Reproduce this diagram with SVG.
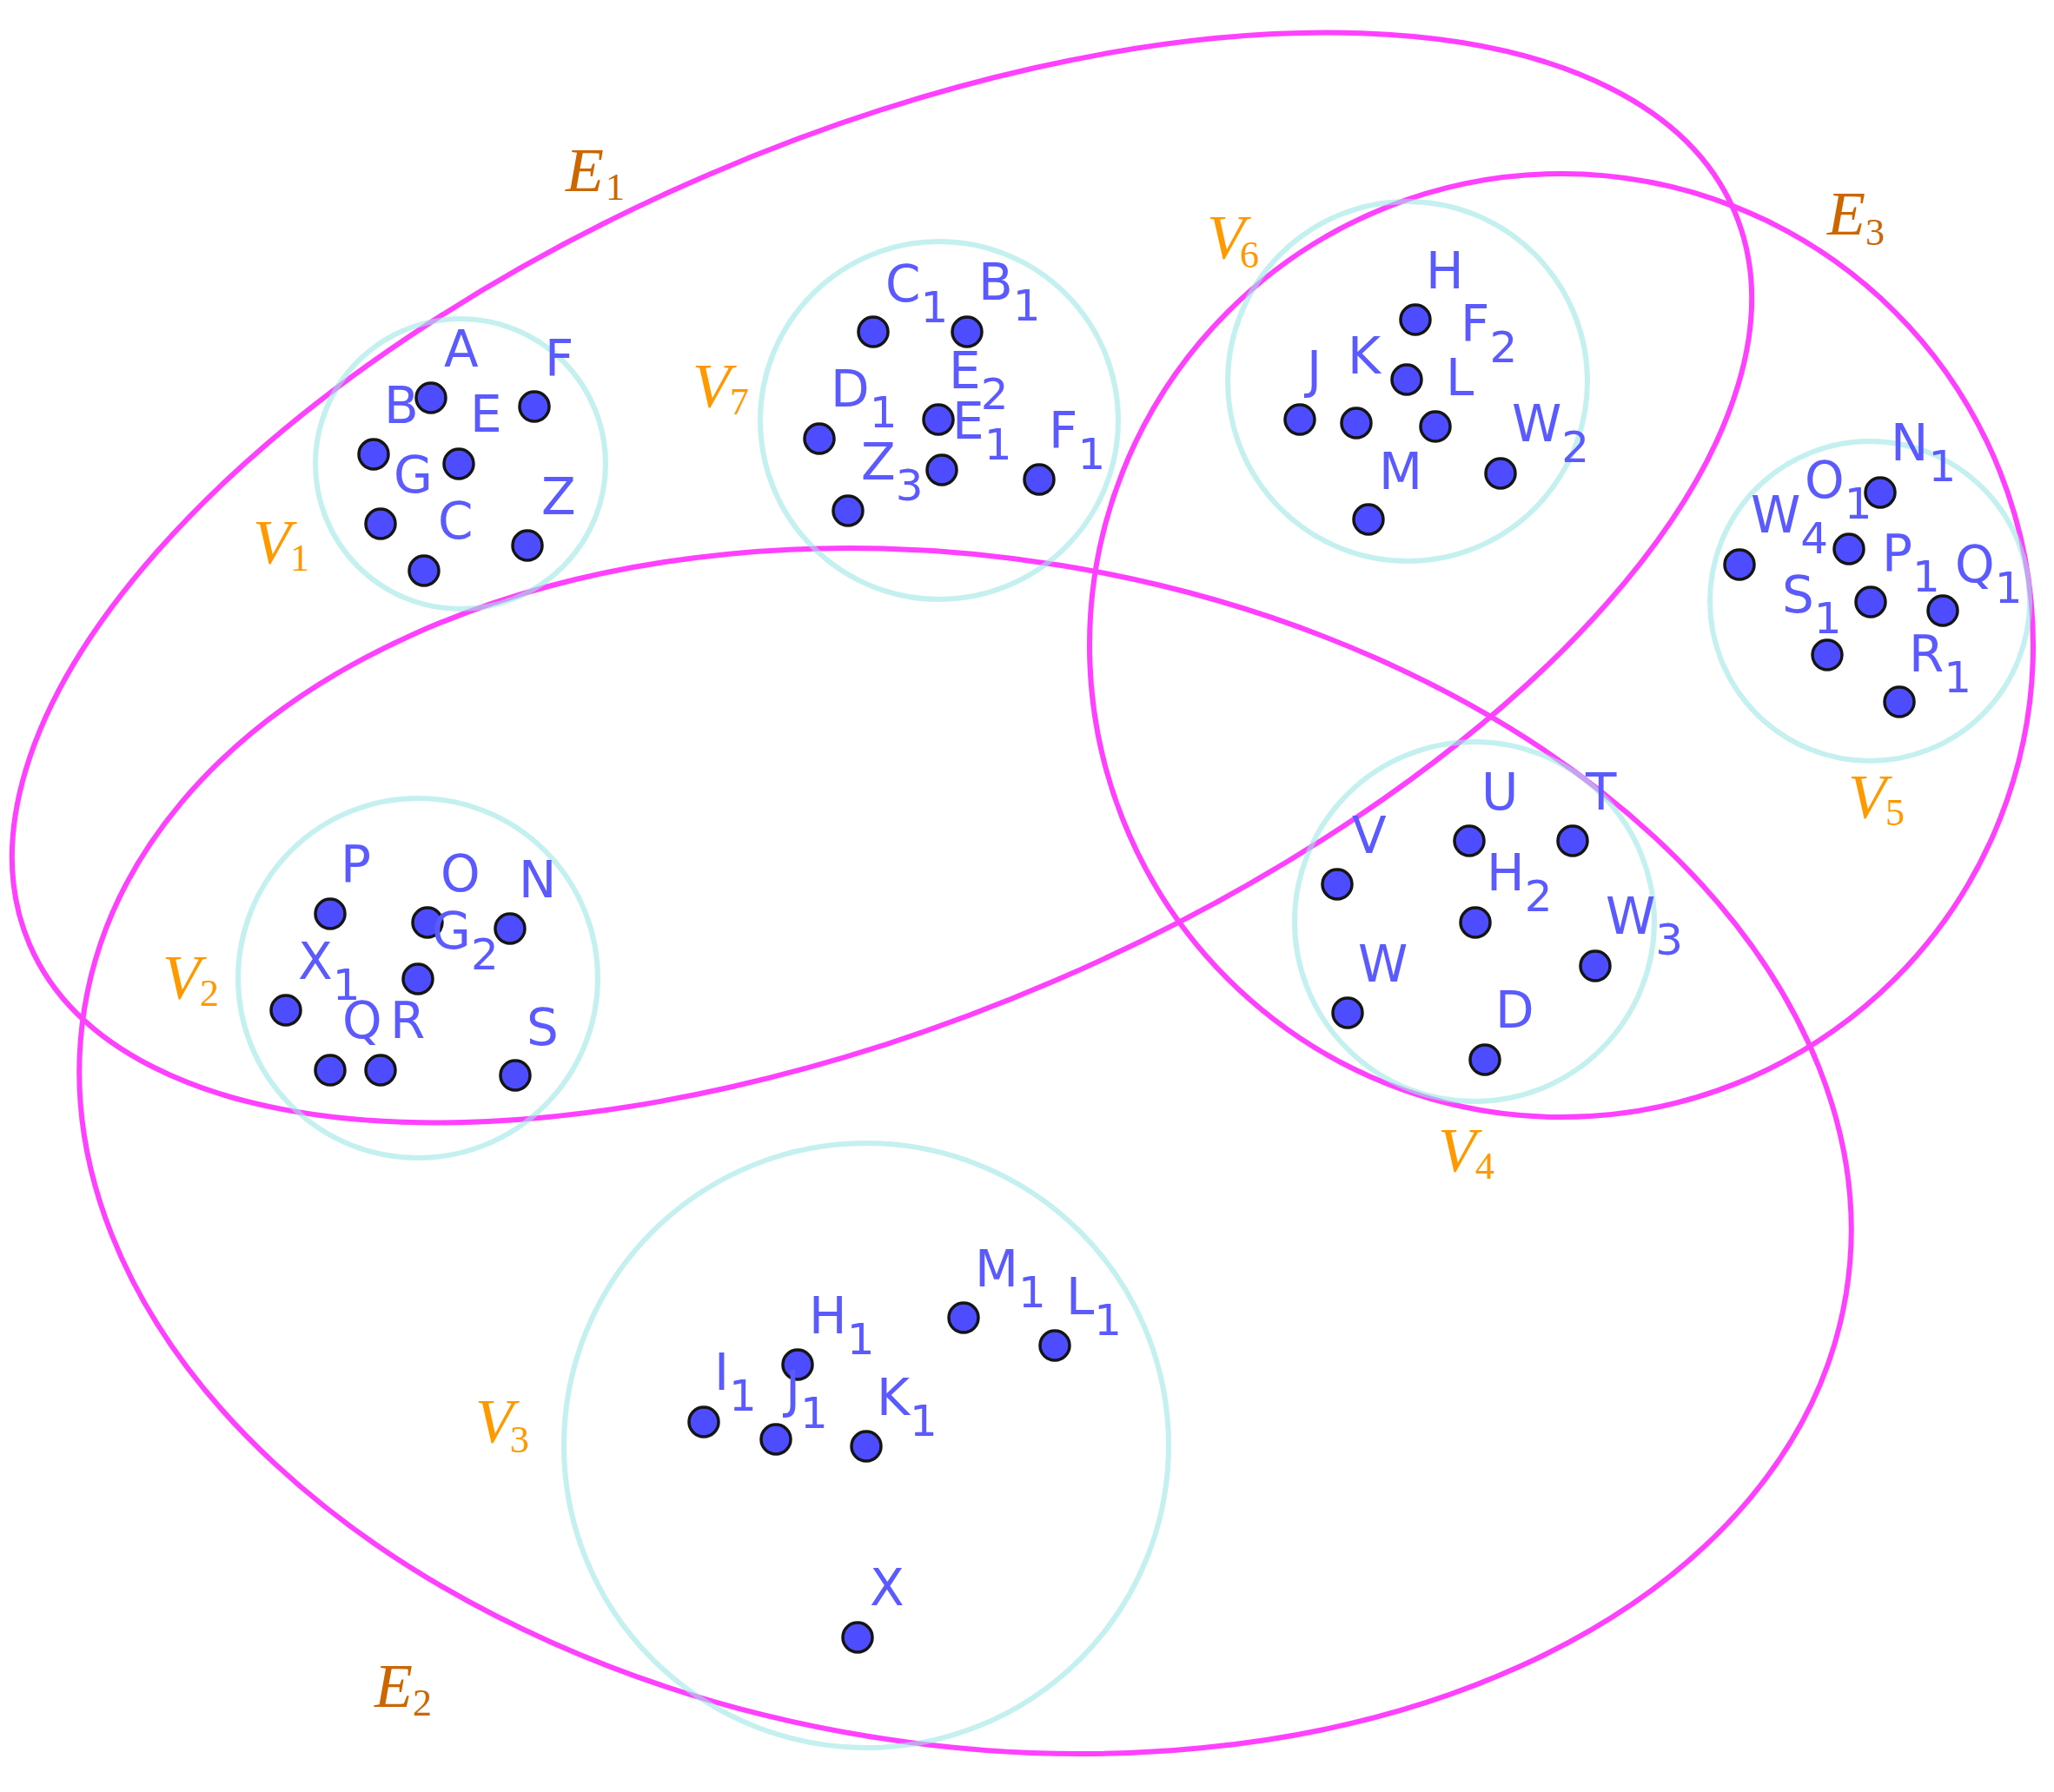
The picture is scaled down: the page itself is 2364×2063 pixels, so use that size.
<svg xmlns="http://www.w3.org/2000/svg" width="2364" height="2063" viewBox="0 0 2364 2063">
<style>
.edge{fill:none;stroke:#ff40ff;stroke-width:6}
.set{fill:none;stroke:#9fe6e6;stroke-width:6;stroke-opacity:0.6}
.pt{fill:#4d4dff;stroke:#151515;stroke-width:3.5}
.lb{font-family:"DejaVu Sans",sans-serif;font-size:58px;fill:#5a5aff}
.sb{font-size:50px}
.vl{font-family:"Liberation Serif",serif;font-style:italic;font-size:72px;fill:#ff9900}
.el{font-family:"Liberation Serif",serif;font-style:italic;font-size:72px;fill:#cc6600}
.dg{font-style:normal;font-size:44px}
</style>
<rect width="2364" height="2063" fill="#ffffff"/>
<g id="hyperedges">
<ellipse class="edge" cx="1015" cy="665" rx="1068" ry="505" transform="rotate(-23.3 1015 665)"/>
<ellipse class="edge" cx="1111" cy="1325" rx="1027" ry="683" transform="rotate(9.2 1111 1325)"/>
<circle class="edge" cx="1797" cy="743" r="543"/>
<text class="el" x="651" y="220">E</text><text class="el dg" x="697" y="230">1</text>
<text class="el" x="431" y="1965">E</text><text class="el dg" x="475" y="1975">2</text>
<text class="el" x="2103" y="270">E</text><text class="el dg" x="2147" y="282">3</text>
</g>
<g id="V1">
<circle class="set" cx="530" cy="534" r="167"/>
<text class="vl" x="291" y="648">V</text><text class="vl dg" x="334" y="657">1</text>
<g id="pA"><circle class="pt" cx="496" cy="458" r="17"/><text class="lb" x="511" y="422">A</text></g>
<g id="pB"><circle class="pt" cx="430" cy="523" r="17"/><text class="lb" x="442" y="487">B</text></g>
<g id="pE"><circle class="pt" cx="528" cy="534" r="17"/><text class="lb" x="541" y="497">E</text></g>
<g id="pF"><circle class="pt" cx="615" cy="468" r="17"/><text class="lb" x="627" y="433">F</text></g>
<g id="pG"><circle class="pt" cx="438" cy="603" r="17"/><text class="lb" x="453" y="567">G</text></g>
<g id="pC"><circle class="pt" cx="488" cy="657" r="17"/><text class="lb" x="504" y="620">C</text></g>
<g id="pZ"><circle class="pt" cx="607" cy="628" r="17"/><text class="lb" x="623" y="592">Z</text></g>
</g>
<g id="V7">
<circle class="set" cx="1081" cy="484" r="206"/>
<text class="vl" x="797" y="468">V</text><text class="vl dg" x="840" y="477">7</text>
<g id="pC1"><circle class="pt" cx="1005" cy="382" r="17"/><text class="lb" x="1019" y="347">C<tspan class="sb" dy="24">1</tspan></text></g>
<g id="pB1"><circle class="pt" cx="1113" cy="382" r="17"/><text class="lb" x="1126" y="345">B<tspan class="sb" dy="24">1</tspan></text></g>
<g id="pD1"><circle class="pt" cx="943" cy="505" r="17"/><text class="lb" x="956" y="468">D<tspan class="sb" dy="24">1</tspan></text></g>
<g id="pE2"><circle class="pt" cx="1080" cy="483" r="17"/><text class="lb" x="1092" y="447">E<tspan class="sb" dy="24">2</tspan></text></g>
<g id="pE1"><circle class="pt" cx="1084" cy="541" r="17"/><text class="lb" x="1096" y="505">E<tspan class="sb" dy="24">1</tspan></text></g>
<g id="pF1"><circle class="pt" cx="1196" cy="552" r="17"/><text class="lb" x="1207" y="516">F<tspan class="sb" dy="24">1</tspan></text></g>
<g id="pZ3"><circle class="pt" cx="976" cy="588" r="17"/><text class="lb" x="991" y="552">Z<tspan class="sb" dy="24">3</tspan></text></g>
</g>
<g id="V6">
<circle class="set" cx="1620" cy="439" r="207"/>
<text class="vl" x="1389" y="297">V</text><text class="vl dg" x="1427" y="308">6</text>
<g id="pH"><circle class="pt" cx="1629" cy="368" r="17"/><text class="lb" x="1641" y="332">H</text></g>
<g id="pF2"><circle class="pt" cx="1619" cy="437" r="17"/><text class="lb" x="1681" y="393">F<tspan class="sb" dy="24">2</tspan></text></g>
<g id="pJ"><circle class="pt" cx="1496" cy="483" r="17"/><text class="lb" x="1504" y="446">J</text></g>
<g id="pK"><circle class="pt" cx="1561" cy="487" r="17"/><text class="lb" x="1551" y="430">K</text></g>
<g id="pL"><circle class="pt" cx="1652" cy="491" r="17"/><text class="lb" x="1664" y="455">L</text></g>
<g id="pW2"><circle class="pt" cx="1727" cy="545" r="17"/><text class="lb" x="1740" y="508">W<tspan class="sb" dy="24">2</tspan></text></g>
<g id="pM"><circle class="pt" cx="1575" cy="598" r="17"/><text class="lb" x="1587" y="563">M</text></g>
</g>
<g id="V5">
<circle class="set" cx="2152" cy="692" r="184"/>
<text class="vl" x="2127" y="941">V</text><text class="vl dg" x="2170" y="950">5</text>
<g id="pO1"><circle class="pt" cx="2128" cy="632" r="17"/><text class="lb" x="2077" y="573">O<tspan class="sb" dy="24">1</tspan></text></g>
<g id="pN1"><circle class="pt" cx="2164" cy="567" r="17"/><text class="lb" x="2176" y="530">N<tspan class="sb" dy="24">1</tspan></text></g>
<g id="pW4"><circle class="pt" cx="2002" cy="650" r="17"/><text class="lb" x="2015" y="613">W<tspan class="sb" dy="24">4</tspan></text></g>
<g id="pP1"><circle class="pt" cx="2153" cy="693" r="17"/><text class="lb" x="2166" y="657">P<tspan class="sb" dy="24">1</tspan></text></g>
<g id="pQ1"><circle class="pt" cx="2236" cy="703" r="17"/><text class="lb" x="2250" y="670">Q<tspan class="sb" dy="24">1</tspan></text></g>
<g id="pS1"><circle class="pt" cx="2103" cy="754" r="17"/><text class="lb" x="2051" y="705">S<tspan class="sb" dy="24">1</tspan></text></g>
<g id="pR1"><circle class="pt" cx="2186" cy="808" r="17"/><text class="lb" x="2197" y="773">R<tspan class="sb" dy="24">1</tspan></text></g>
</g>
<g id="V2">
<circle class="set" cx="481" cy="1126" r="207"/>
<text class="vl" x="187" y="1149">V</text><text class="vl dg" x="230" y="1158">2</text>
<g id="pP"><circle class="pt" cx="380" cy="1052" r="17"/><text class="lb" x="392" y="1015">P</text></g>
<g id="pO"><circle class="pt" cx="492" cy="1062" r="17"/><text class="lb" x="507" y="1026">O</text></g>
<g id="pN"><circle class="pt" cx="587" cy="1069" r="17"/><text class="lb" x="597" y="1033">N</text></g>
<g id="pG2"><circle class="pt" cx="481" cy="1127" r="17"/><text class="lb" x="497" y="1092">G<tspan class="sb" dy="24">2</tspan></text></g>
<g id="pX1"><circle class="pt" cx="329" cy="1163" r="17"/><text class="lb" x="343" y="1127">X<tspan class="sb" dy="24">1</tspan></text></g>
<g id="pQ"><circle class="pt" cx="380" cy="1232" r="17"/><text class="lb" x="394" y="1195">Q</text></g>
<g id="pR"><circle class="pt" cx="438" cy="1232" r="17"/><text class="lb" x="449" y="1195">R</text></g>
<g id="pS"><circle class="pt" cx="593" cy="1238" r="17"/><text class="lb" x="606" y="1203">S</text></g>
</g>
<g id="V4">
<circle class="set" cx="1697" cy="1061" r="207"/>
<text class="vl" x="1655" y="1348">V</text><text class="vl dg" x="1698" y="1357">4</text>
<g id="pV"><circle class="pt" cx="1539" cy="1018" r="17"/><text class="lb" x="1556" y="982">V</text></g>
<g id="pU"><circle class="pt" cx="1691" cy="968" r="17"/><text class="lb" x="1705" y="932">U</text></g>
<g id="pT"><circle class="pt" cx="1810" cy="968" r="17"/><text class="lb" x="1825" y="932">T</text></g>
<g id="pH2"><circle class="pt" cx="1698" cy="1062" r="17"/><text class="lb" x="1711" y="1025">H<tspan class="sb" dy="24">2</tspan></text></g>
<g id="pW3"><circle class="pt" cx="1836" cy="1112" r="17"/><text class="lb" x="1848" y="1075">W<tspan class="sb" dy="24">3</tspan></text></g>
<g id="pW"><circle class="pt" cx="1551" cy="1166" r="17"/><text class="lb" x="1563" y="1130">W</text></g>
<g id="pD"><circle class="pt" cx="1709" cy="1220" r="17"/><text class="lb" x="1721" y="1183">D</text></g>
</g>
<g id="V3">
<circle class="set" cx="997" cy="1664" r="348"/>
<text class="vl" x="547" y="1660">V</text><text class="vl dg" x="587" y="1672">3</text>
<g id="pI1"><circle class="pt" cx="810" cy="1637" r="17"/><text class="lb" x="822" y="1600">I<tspan class="sb" dy="24">1</tspan></text></g>
<g id="pH1"><circle class="pt" cx="918" cy="1571" r="17"/><text class="lb" x="931" y="1535">H<tspan class="sb" dy="24">1</tspan></text></g>
<g id="pJ1"><circle class="pt" cx="893" cy="1657" r="17"/><text class="lb" x="904" y="1620">J<tspan class="sb" dy="24">1</tspan></text></g>
<g id="pK1"><circle class="pt" cx="997" cy="1665" r="17"/><text class="lb" x="1009" y="1629">K<tspan class="sb" dy="24">1</tspan></text></g>
<g id="pM1"><circle class="pt" cx="1109" cy="1517" r="17"/><text class="lb" x="1122" y="1481">M<tspan class="sb" dy="24">1</tspan></text></g>
<g id="pL1"><circle class="pt" cx="1214" cy="1549" r="17"/><text class="lb" x="1227" y="1513">L<tspan class="sb" dy="24">1</tspan></text></g>
<g id="pX"><circle class="pt" cx="987" cy="1885" r="17"/><text class="lb" x="1001" y="1848">X</text></g>
</g>
</svg>
